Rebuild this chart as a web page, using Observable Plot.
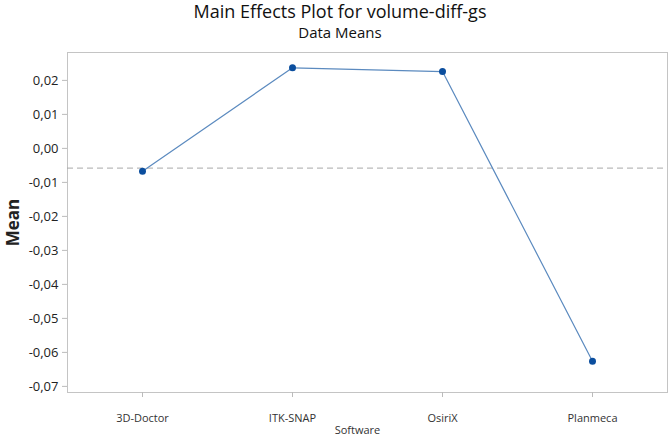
<!DOCTYPE html>
<html>
<head>
<meta charset="utf-8">
<script src="https://cdn.jsdelivr.net/npm/d3@7"></script>
<script src="https://cdn.jsdelivr.net/npm/@observablehq/plot@0.6"></script>
<style>
  body { margin: 0; background: #fff; font-family: "Open Sans", sans-serif; }
  #wrap { width: 669px; height: 437px; overflow: hidden; position: relative; }
  #title { position: absolute; left: 0; width: 680px; top: 0px; text-align: center; font-size: 18px; line-height: 22px; color: #111; }
  #subtitle { position: absolute; left: 0; width: 680px; top: 22px; text-align: center; font-size: 15px; line-height: 20px; color: #111; }
  #chart { position: absolute; left: 0; top: 48px; }
</style>
</head>
<body>
<div id="wrap">
  <div id="title">Main Effects Plot for volume-diff-gs</div>
  <div id="subtitle">Data Means</div>
  <div id="chart"></div>
</div>
<script>
const software = ["3D-Doctor", "ITK-SNAP", "OsiriX", "Planmeca"];
const means = [-0.0067, 0.0237, 0.0226, -0.0626];
const overallMean = -0.0058;
const yTicks = [0.02, 0.01, 0.00, -0.01, -0.02, -0.03, -0.04, -0.05, -0.06, -0.07];
const yLabel = "Mean";
const xLabel = "Software";

const data = software.map((s, i) => ({software: s, mean: means[i]}));

const chart = Plot.plot({
  width: 669,
  height: 389,
  marginLeft: 67,
  marginRight: 2,
  marginTop: 4,
  marginBottom: 45,
  style: {fontFamily: "Open Sans, sans-serif", background: "#fff", color: "#222"},
  x: {type: "point", domain: software, padding: 0.5},
  y: {domain: [-0.0718, 0.0282]},
  marks: [
    Plot.frame({stroke: "#c4c4c4"}),
    Plot.axisY(yTicks, {
      tickSize: 5, tickPadding: 4, fontSize: 13, stroke: "#bbb",
      tickFormat: d => d.toFixed(2).replace(".", ","), label: null, fill: "#222"
    }),
    Plot.axisX(software, {
      tickSize: 5, tickPadding: 17, fontSize: 11, stroke: "#bbb", label: null, fill: "#333"
    }),
    Plot.text([yLabel], {frameAnchor: "left", textAnchor: "middle", dx: -54, rotate: -90, fontSize: 17, fontWeight: "bold", fill: "#222", text: d => d}),
    Plot.text([xLabel], {frameAnchor: "bottom", dx: -10, dy: 41, fontSize: 11, fill: "#333", text: d => d}),
    Plot.ruleY([overallMean], {stroke: "#a8a8a8", strokeDasharray: "6,4", strokeWidth: 1}),
    Plot.line(data, {x: "software", y: "mean", stroke: "#5b8abf", strokeWidth: 1.2}),
    Plot.dot(data, {x: "software", y: "mean", r: 3.5, fill: "#0b4e9e", stroke: "none"})
  ]
});
document.getElementById("chart").appendChild(chart);
</script>
</body>
</html>
